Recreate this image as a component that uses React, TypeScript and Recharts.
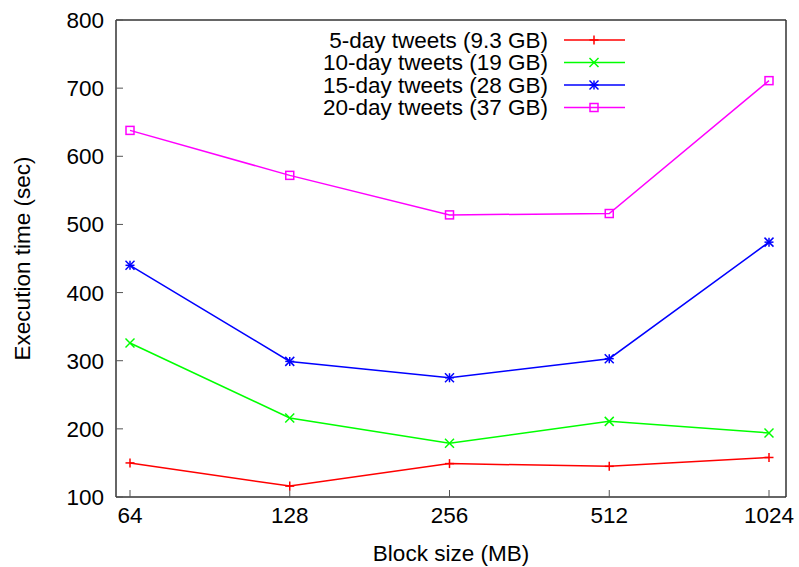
import React from 'react';
import { LineChart, Line, XAxis, YAxis } from 'recharts';

const blockSizes = ['64', '128', '256', '512', '1024'];
const tweets5 = [150, 116, 149, 145, 158];
const tweets10 = [326, 216, 179, 211, 194];
const tweets15 = [440, 299, 275, 303, 474];
const tweets20 = [638, 572, 514, 516, 711];
const yTicks = [100, 200, 300, 400, 500, 600, 700, 800];

const seriesNames = [
  '5-day tweets (9.3 GB)',
  '10-day tweets (19 GB)',
  '15-day tweets (28 GB)',
  '20-day tweets (37 GB)',
];
const seriesColors = ['#ff0000', '#00ff00', '#0000ff', '#ff00ff'];
const seriesKeys = ['t5', 't10', 't15', 't20'];
const seriesMarkers = ['plus', 'cross', 'star', 'square'];

const data = blockSizes.map((b, i) => ({
  block: b,
  t5: tweets5[i],
  t10: tweets10[i],
  t15: tweets15[i],
  t20: tweets20[i],
}));

const FONT = '"Liberation Sans", Arial, Helvetica, sans-serif';
const FS = 22.5;

function Marker({ type, cx, cy, color }: { type: string; cx: number; cy: number; color: string }) {
  const s = 4.5;
  const sw = 1.5;
  if (type === 'plus') {
    return (
      <g stroke={color} strokeWidth={sw}>
        <line x1={cx - s} y1={cy} x2={cx + s} y2={cy} />
        <line x1={cx} y1={cy - s} x2={cx} y2={cy + s} />
      </g>
    );
  }
  if (type === 'cross') {
    return (
      <g stroke={color} strokeWidth={sw}>
        <line x1={cx - s} y1={cy - s} x2={cx + s} y2={cy + s} />
        <line x1={cx - s} y1={cy + s} x2={cx + s} y2={cy - s} />
      </g>
    );
  }
  if (type === 'star') {
    return (
      <g stroke={color} strokeWidth={sw}>
        <line x1={cx - s} y1={cy} x2={cx + s} y2={cy} />
        <line x1={cx} y1={cy - s} x2={cx} y2={cy + s} />
        <line x1={cx - s} y1={cy - s} x2={cx + s} y2={cy + s} />
        <line x1={cx - s} y1={cy + s} x2={cx + s} y2={cy - s} />
      </g>
    );
  }
  return <rect x={cx - 4} y={cy - 4} width={8} height={8} fill="none" stroke={color} strokeWidth={sw} />;
}

const makeDot = (type: string, color: string) => (props: any) => {
  const { cx, cy, index } = props;
  if (cx == null || cy == null) return <g key={index} />;
  return <Marker key={index} type={type} cx={cx} cy={cy} color={color} />;
};

const LegendBox = () => (
  <svg width={340} height={100} style={{ position: 'absolute', left: 300, top: 28, display: 'block' }}>
    {seriesNames.map((n, i) => {
      const y = 12 + i * 22.5;
      return (
        <g key={n}>
          <text x={248} y={y} textAnchor="end" dominantBaseline="central" fontFamily={FONT} fontSize={FS} fill="#000">
            {n}
          </text>
          <line x1={264} y1={y} x2={325} y2={y} stroke={seriesColors[i]} strokeWidth={1.5} />
          <Marker type={seriesMarkers[i]} cx={294} cy={y} color={seriesColors[i]} />
        </g>
      );
    })}
  </svg>
);

export default function App() {
  return (
    <div style={{ position: 'absolute', left: 0, top: 0, width: 799, height: 567 }}>
      <LineChart width={799} height={567} data={data} margin={{ top: 19, right: 12, bottom: 0, left: 0 }}>
        <XAxis
          dataKey="block"
          height={70}
          padding={{ left: 14, right: 17 }}
          stroke="#333"
          strokeWidth={1.5}
          tickSize={-7}
          tickMargin={17}
          tickLine={{ stroke: '#555', strokeWidth: 1 }}
          tick={{ fill: '#000', fontSize: FS, fontFamily: FONT }}
          interval={0}
          label={{ value: 'Block size (MB)', position: 'insideBottom', offset: 6, style: { fill: '#000', fontSize: FS, fontFamily: FONT } }}
        />
        <XAxis xAxisId="top" orientation="top" dataKey="block" height={1} tick={false} tickLine={false} stroke="#333" strokeWidth={1.5} />
        <YAxis
          domain={[100, 800]}
          ticks={yTicks}
          width={116}
          stroke="#333"
          strokeWidth={1.5}
          tickSize={-7}
          tickMargin={19}
          tickLine={{ stroke: '#555', strokeWidth: 1 }}
          tick={{ fill: '#000', fontSize: FS, fontFamily: FONT }}
          interval={0}
          label={{ value: 'Execution time (sec)', angle: -90, position: 'insideLeft', offset: 22, style: { textAnchor: 'middle', fill: '#000', fontSize: FS, fontFamily: FONT } }}
        />
        <YAxis yAxisId="right" orientation="right" width={1} domain={[100, 800]} tick={false} tickLine={false} stroke="#333" strokeWidth={1.5} />
        {seriesKeys.map((k, i) => (
          <Line
            key={k}
            dataKey={k}
            name={seriesNames[i]}
            stroke={seriesColors[i]}
            strokeWidth={1.5}
            isAnimationActive={false}
            dot={makeDot(seriesMarkers[i], seriesColors[i])}
            activeDot={false}
          />
        ))}
      </LineChart>
      <LegendBox />
    </div>
  );
}
